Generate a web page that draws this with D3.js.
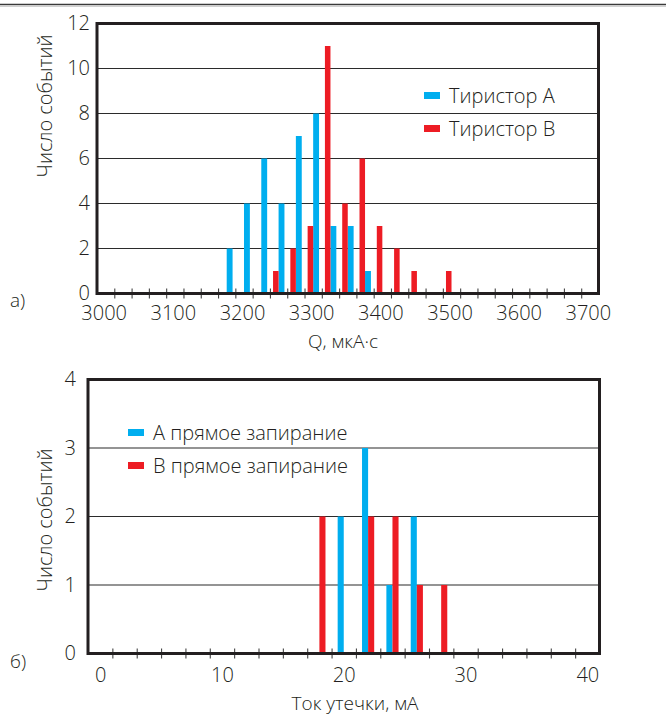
<!DOCTYPE html>
<html>
<head>
<meta charset="utf-8">
<script src="https://cdn.jsdelivr.net/npm/d3@7/dist/d3.min.js"></script>
<style>
  body { margin: 0; background: #fff; }
  svg text { font-family: "Open Sans", "DejaVu Sans", sans-serif; font-weight: 300; fill: #231f20; }
  .axis path.domain { display: none; }
</style>
</head>
<body>
<div id="chart"></div>
<script>

// ---- chart a) : Q, mkA*s ----
var qBins      = [3175, 3200, 3225, 3250, 3275, 3300, 3325, 3350, 3375, 3400, 3425, 3450, 3475, 3500];
var thyristorA = [2,    4,    6,    4,    7,    8,    3,    3,    1,    0,    0,    0,    0,    0];
var thyristorB = [0,    0,    0,    1,    2,    3,    11,   4,    6,    3,    2,    1,    0,    1];
var qLabels    = [3000, 3100, 3200, 3300, 3400, 3500, 3600, 3700];
var countLabelsA = [0, 2, 4, 6, 8, 10, 12];

// ---- chart б) : leakage current, mA ----
var iBins      = [18, 20, 22, 24, 26, 28];
var forwardA   = [0,  2,  3,  1,  2,  0];
var forwardB   = [2,  0,  2,  2,  1,  1];
var iLabels    = [0, 10, 20, 30, 40];
var countLabelsB = [0, 1, 2, 3, 4];

var blue = "#00aeef";
var red = "#ed1c24";

var width = 666;
var height = 718;

var svg = d3.select("#chart").append("svg")
  .attr("width", width)
  .attr("height", height);

// top rule
svg.append("line").attr("x1", 0).attr("x2", width).attr("y1", 4.5).attr("y2", 4.5)
  .style("stroke", "#3a3a3a").style("stroke-width", 1.6);
svg.append("line").attr("x1", 0).attr("x2", width).attr("y1", 6.5).attr("y2", 6.5)
  .style("stroke", "#d0d0d0").style("stroke-width", 1);

function drawPanel(cfg) {

  var x = d3.scaleLinear().domain(cfg.xDomain).range([cfg.left, cfg.right]);
  var y = d3.scaleLinear().domain(cfg.yDomain).range([cfg.bottom, cfg.top]);

  var g = svg.append("g");

  // grid lines
  g.selectAll("line.grid")
    .data(cfg.yLabels.filter(function(d) { return d > cfg.yDomain[0] && d < cfg.yDomain[1]; }))
    .enter().append("line")
    .attr("class", "grid")
    .attr("x1", cfg.left).attr("x2", cfg.right)
    .attr("y1", function(d) { return y(d); })
    .attr("y2", function(d) { return y(d); })
    .style("stroke", "#2b2b2b")
    .style("stroke-width", 1.2);

  // bars, series 1
  g.selectAll("rect.s1")
    .data(cfg.bins.map(function(b, i) { return {b: b, v: cfg.s1[i]}; }).filter(function(d) { return d.v > 0; }))
    .enter().append("rect")
    .attr("x", function(d) { return x(d.b + cfg.s1Off[0]); })
    .attr("width", function(d) { return x(d.b + cfg.s1Off[1]) - x(d.b + cfg.s1Off[0]); })
    .attr("y", function(d) { return y(d.v); })
    .attr("height", function(d) { return y(0) - y(d.v); })
    .style("fill", cfg.c1);

  // bars, series 2
  g.selectAll("rect.s2")
    .data(cfg.bins.map(function(b, i) { return {b: b, v: cfg.s2[i]}; }).filter(function(d) { return d.v > 0; }))
    .enter().append("rect")
    .attr("x", function(d) { return x(d.b + cfg.s2Off[0]); })
    .attr("width", function(d) { return x(d.b + cfg.s2Off[1]) - x(d.b + cfg.s2Off[0]); })
    .attr("y", function(d) { return y(d.v); })
    .attr("height", function(d) { return y(0) - y(d.v); })
    .style("fill", cfg.c2);

  // tick marks crossing the baseline
  g.append("g")
    .attr("transform", "translate(0," + (cfg.bottom - 5) + ")")
    .call(d3.axisBottom(x).tickValues(cfg.tickValues).tickSize(10).tickFormat(""))
    .call(function(a) {
      a.select(".domain").remove();
      a.selectAll("line").style("stroke", "#444").style("stroke-width", 1.1);
    });

  // frame
  g.append("rect")
    .attr("x", cfg.left).attr("y", cfg.top)
    .attr("width", cfg.right - cfg.left).attr("height", cfg.bottom - cfg.top)
    .style("fill", "none")
    .style("stroke", "#231f20")
    .style("stroke-width", 3);

  // x labels
  g.append("g")
    .attr("class", "axis")
    .attr("transform", "translate(" + cfg.xLabelShift + "," + cfg.bottom + ")")
    .call(d3.axisBottom(x).tickValues(cfg.xLabels).tickSize(0).tickPadding(cfg.xPad).tickFormat(d3.format("d")))
    .call(function(a) {
      a.selectAll("text").style("font-size", "20px").style("font-family", null);
    });

  // y labels
  g.append("g")
    .attr("class", "axis")
    .attr("transform", "translate(" + (cfg.left - cfg.yLabelGap) + ",0)")
    .call(d3.axisLeft(y).tickValues(cfg.yLabels).tickSize(0).tickPadding(0).tickFormat(d3.format("d")))
    .call(function(a) {
      a.selectAll("text").style("font-size", "20px").style("font-family", null);
    });

  // titles
  g.append("text")
    .attr("x", cfg.xTitleX).attr("y", cfg.xTitleY)
    .attr("text-anchor", "middle")
    .style("font-size", "19px")
    .text(cfg.xTitle);

  g.append("text")
    .attr("transform", "translate(" + cfg.yTitleX + "," + cfg.yTitleY + ") rotate(-90)")
    .attr("text-anchor", "middle")
    .style("font-size", "20px")
    .text("Число событий");

  g.append("text")
    .attr("x", 10).attr("y", cfg.tagY)
    .style("font-size", "19px")
    .text(cfg.tag);

  // legend
  var leg = g.selectAll("g.leg")
    .data(cfg.legend)
    .enter().append("g")
    .attr("transform", function(d, i) { return "translate(" + cfg.legX + "," + (cfg.legY + i * cfg.legStep) + ")"; });
  leg.append("rect")
    .attr("x", 0).attr("y", -4).attr("width", 16).attr("height", 7)
    .style("fill", function(d) { return d.color; });
  leg.append("text")
    .attr("x", 25).attr("y", 7)
    .style("font-size", "20px")
    .text(function(d) { return d.name; });
}

drawPanel({
  xDomain: [2987.5, 3712.5], yDomain: [0, 12],
  left: 97, right: 598.5, top: 23.5, bottom: 293.5,
  bins: qBins, s1: thyristorA, s2: thyristorB,
  s1Off: [0, 8.5], s2Off: [-8, 0], c1: blue, c2: red,
  tickValues: d3.range(3012.5, 3700, 25),
  xLabels: qLabels, xLabelShift: -2, xPad: 12, yLabels: countLabelsA, yLabelGap: 7,
  xTitle: "Q, мкА·с", xTitleX: 343, xTitleY: 348,
  yTitleX: 52, yTitleY: 106,
  tag: "а)", tagY: 307,
  legend: [{name: "Тиристор А", color: blue}, {name: "Тиристор В", color: red}],
  legX: 424, legY: 96, legStep: 33
});

drawPanel({
  xDomain: [-1, 41], yDomain: [0, 4],
  left: 88, right: 599.5, top: 379.5, bottom: 653.5,
  bins: iBins, s1: forwardA, s2: forwardB,
  s1Off: [-0.5, 0], s2Off: [0, 0.5], c1: blue, c2: red,
  tickValues: d3.range(1, 41, 2),
  xLabels: iLabels, xLabelShift: 0, xPad: 14, yLabels: countLabelsB, yLabelGap: 12,
  xTitle: "Ток утечки, мА", xTitleX: 355, xTitleY: 710,
  yTitleX: 52, yTitleY: 520,
  tag: "б)", tagY: 668,
  legend: [{name: "А прямое запирание", color: blue}, {name: "В прямое запирание", color: red}],
  legX: 128, legY: 433, legStep: 33
});

</script>
</body>
</html>
